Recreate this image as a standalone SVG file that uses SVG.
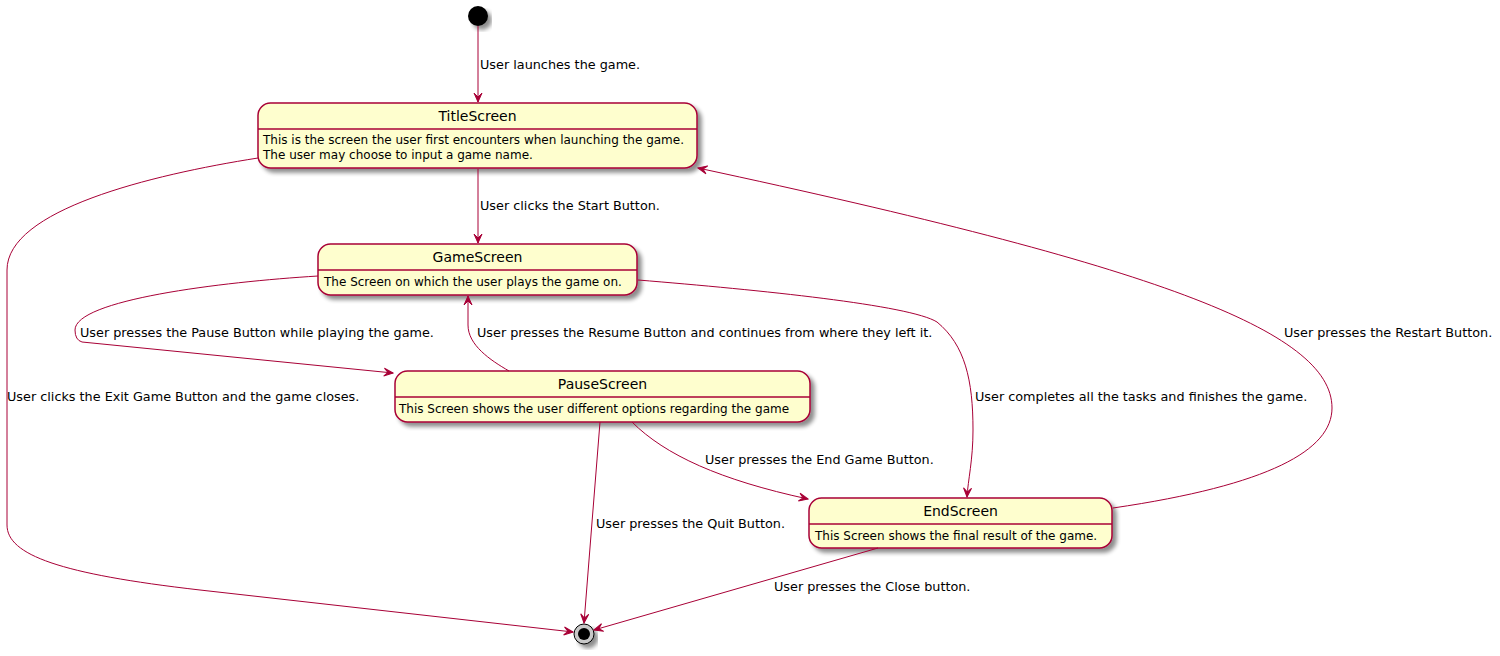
<svg xmlns="http://www.w3.org/2000/svg" width="1500" height="656" viewBox="0 0 1500 656">
<defs>
<filter id="sh" x="-10%" y="-10%" width="130%" height="140%">
<feGaussianBlur in="SourceAlpha" stdDeviation="2"/>
<feOffset dx="4" dy="4" result="o"/>
<feComponentTransfer><feFuncA type="linear" slope="0.45"/></feComponentTransfer>
<feMerge><feMergeNode/><feMergeNode in="SourceGraphic"/></feMerge>
</filter>
<marker id="arr" viewBox="-10 -5 11 10" refX="0" refY="0" markerWidth="11" markerHeight="10" markerUnits="userSpaceOnUse" orient="auto">
<path d="M0,0 L-9,-4 L-5,0 L-9,4 Z" fill="#A80036" stroke="#A80036" stroke-width="1"/>
</marker>
</defs>
<style>
.st{fill:#FEFECE;stroke:#A80036;stroke-width:1.5}
.dv{stroke:#A80036;stroke-width:1.5}
.nm{font-family:"DejaVu Sans","Liberation Sans",sans-serif;font-size:14px;fill:#000;text-anchor:middle}
.bd{font-family:"DejaVu Sans","Liberation Sans",sans-serif;font-size:12px;fill:#000}
.lb{font-family:"DejaVu Sans","Liberation Sans",sans-serif;font-size:12.8px;fill:#000}
.cn{fill:none;stroke:#A80036;stroke-width:1;marker-end:url(#arr)}
</style>
<rect width="1500" height="656" fill="#fff"/>

<g id="start">
<circle cx="478" cy="16" r="10" fill="#000" filter="url(#sh)"/>
</g>

<g id="TitleScreen">
<rect class="st" x="258" y="103" width="439" height="65" rx="12.5" ry="12.5" filter="url(#sh)"/>
<line class="dv" x1="258" y1="129" x2="697" y2="129"/>
<text class="nm" x="477.5" y="121">TitleScreen</text>
<text class="bd" x="263" y="144">This is the screen the user first encounters when launching the game.</text>
<text class="bd" x="263" y="159">The user may choose to input a game name.</text>
</g>

<g id="GameScreen">
<rect class="st" x="318" y="244" width="319" height="51" rx="12.5" ry="12.5" filter="url(#sh)"/>
<line class="dv" x1="318" y1="270" x2="637" y2="270"/>
<text class="nm" x="477.5" y="262">GameScreen</text>
<text class="bd" x="324" y="286">The Screen on which the user plays the game on.</text>
</g>

<g id="PauseScreen">
<rect class="st" x="395" y="371" width="415" height="51" rx="12.5" ry="12.5" filter="url(#sh)"/>
<line class="dv" x1="395" y1="397" x2="810" y2="397"/>
<text class="nm" x="602.5" y="389">PauseScreen</text>
<text class="bd" x="399" y="413">This Screen shows the user different options regarding the game</text>
</g>

<g id="EndScreen">
<rect class="st" x="809" y="498" width="303" height="50" rx="12.5" ry="12.5" filter="url(#sh)"/>
<line class="dv" x1="809" y1="524" x2="1112" y2="524"/>
<text class="nm" x="960.5" y="516">EndScreen</text>
<text class="bd" x="815" y="540">This Screen shows the final result of the game.</text>
</g>

<g id="end">
<circle cx="584" cy="634" r="10" fill="#c8c8c8" stroke="#000" stroke-width="1" filter="url(#sh)"/>
<circle cx="584" cy="634" r="6" fill="#000"/>
</g>

<g id="connectors">
<path class="cn" d="M478,26 L478,102"/>
<path class="cn" d="M478,169 L478,243"/>
<path class="cn" d="M258,158 C150,175 7,210 7,270 L7,525 C7,555 60,574 200,590 L573,632"/>
<path class="cn" d="M318,276 C220,282 75,300 75,330 Q75,340 82,342 L393,373"/>
<path class="cn" d="M509,371 C490,360 468,345 468,325 L468,296"/>
<path class="cn" d="M638,280 C760,290 910,305 937,322 C965,345 973,380 973,430 C973,460 968,480 967,497"/>
<path class="cn" d="M632,422 C665,455 720,480 808,499"/>
<path class="cn" d="M600,422 L584,623"/>
<path class="cn" d="M878,548 L594,630"/>
<path class="cn" d="M1113,508 C1270,485 1332,450 1332,408 C1332,330 1150,265 698,168"/>
</g>

<g id="labels">
<text class="lb" x="480" y="69">User launches the game.</text>
<text class="lb" x="480" y="210">User clicks the Start Button.</text>
<text class="lb" x="80" y="337">User presses the Pause Button while playing the game.</text>
<text class="lb" x="477" y="337">User presses the Resume Button and continues from where they left it.</text>
<text class="lb" x="7" y="401">User clicks the Exit Game Button and the game closes.</text>
<text class="lb" x="975" y="401">User completes all the tasks and finishes the game.</text>
<text class="lb" x="1284" y="337">User presses the Restart Button.</text>
<text class="lb" x="705" y="464">User presses the End Game Button.</text>
<text class="lb" x="596" y="528">User presses the Quit Button.</text>
<text class="lb" x="774" y="591">User presses the Close button.</text>
</g>
</svg>
